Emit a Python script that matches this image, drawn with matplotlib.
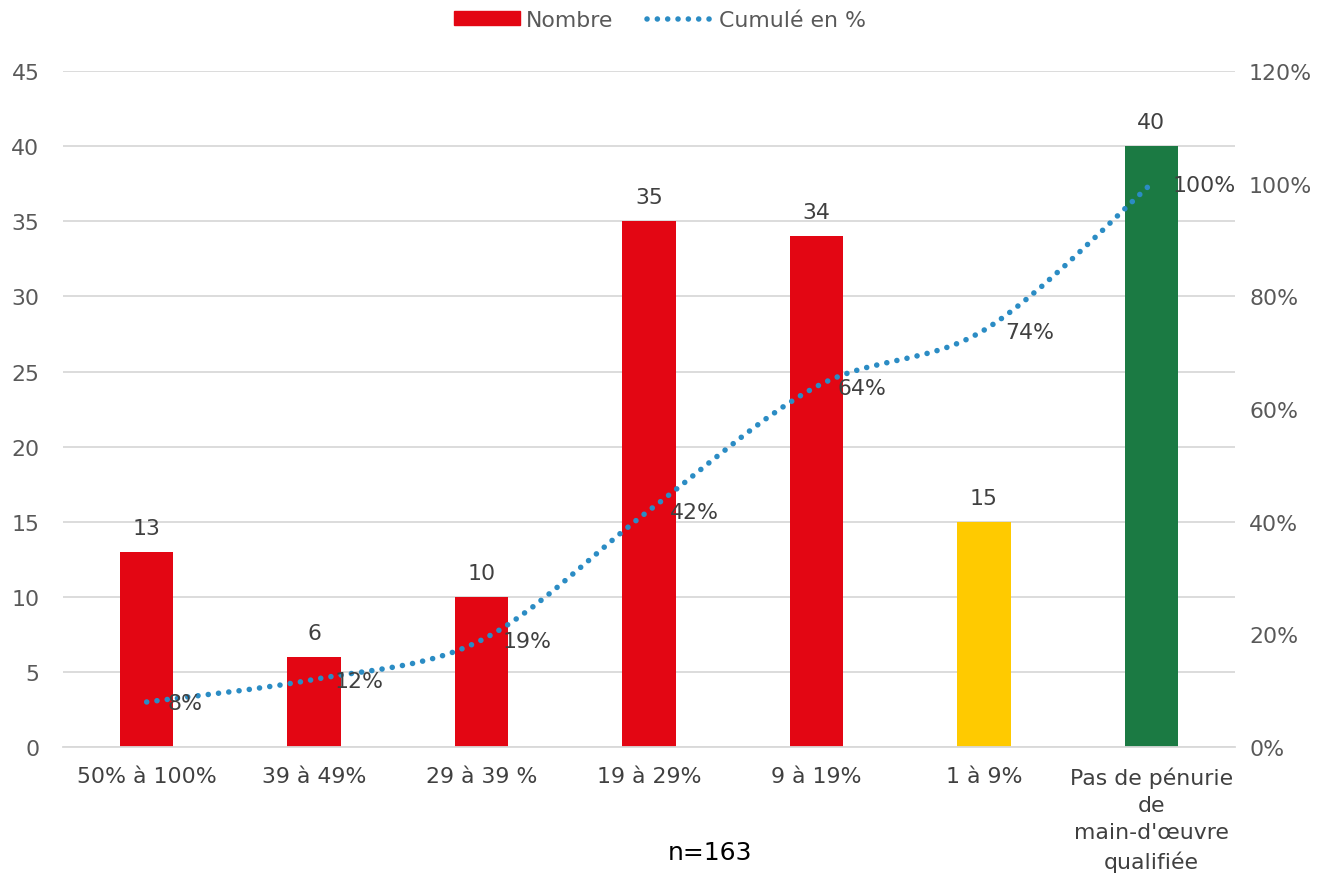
import numpy as np
import matplotlib.pyplot as plt
from matplotlib.path import Path
from matplotlib.patches import PathPatch, Patch
from matplotlib.lines import Line2D

plt.rcParams['font.family'] = ['DejaVu Sans']

# Data
categories = ['50% à 100%', '39 à 49%', '29 à 39 %', '19 à 29%', '9 à 19%', '1 à 9%',
              "Pas de pénurie\nde\nmain-d'œuvre\nqualifiée"]
counts = [13, 6, 10, 35, 34, 15, 40]
cum_pct = [8, 12, 19, 42, 64, 74, 100]
bar_colors = ['#E30613', '#E30613', '#E30613', '#E30613', '#E30613', '#FFCA00', '#1B7A43']

TEXT = '#404040'
TICK = '#595959'
GRID = '#D9D9D9'
BLUE = '#2B8CC4'
FS = 15.8

fig = plt.figure(figsize=(13.2, 8.79), dpi=100)
ax = fig.add_axes([0.0477, 0.149, 0.888, 0.769])
ax2 = ax.twinx()

x = np.arange(len(categories))
ax.bar(x, counts, width=0.32, color=bar_colors, zorder=2)
for xi, c in zip(x, counts):
    ax.annotate(str(c), (xi, c), xytext=(0, 10), textcoords='offset points',
                ha='center', va='bottom', fontsize=FS, color=TEXT)

ax.set_xlim(-0.5, len(categories) - 0.5)
ax.set_ylim(0, 45)
ax.set_yticks(range(0, 46, 5))
ax.set_xticks(x)
ax.set_xticklabels(categories, fontsize=FS, color=TEXT, linespacing=1.45)
ax.tick_params(axis='x', length=0, pad=14)
ax.tick_params(axis='y', length=0, labelsize=FS, labelcolor=TICK, pad=17)
ax.grid(axis='y', color=GRID, lw=1.3, zorder=0)
ax.set_axisbelow(True)
for s in ax.spines.values():
    s.set_visible(False)
ax.spines['bottom'].set_visible(True)
ax.spines['bottom'].set_color(GRID)
ax.spines['bottom'].set_linewidth(1.3)

# Smoothed cumulative line (Catmull-Rom style bezier through the points)
ax2.set_ylim(0, 120)
ax2.set_yticks(range(0, 121, 20))
ax2.set_yticklabels([f'{v}%' for v in range(0, 121, 20)])
ax2.tick_params(axis='y', length=0, labelsize=FS, labelcolor=TICK, pad=10)
for s in ax2.spines.values():
    s.set_visible(False)

pts = np.column_stack([x, cum_pct]).astype(float)
verts = [tuple(pts[0])]
codes = [Path.MOVETO]
n = len(pts)
for i in range(n - 1):
    p0 = pts[max(i - 1, 0)]
    p1 = pts[i]
    p2 = pts[i + 1]
    p3 = pts[min(i + 2, n - 1)]
    c1 = p1 + (p2 - p0) / 6.0
    c2 = p2 - (p3 - p1) / 6.0
    verts += [tuple(c1), tuple(c2), tuple(p2)]
    codes += [Path.CURVE4] * 3
patch = PathPatch(Path(verts, codes), fill=False, edgecolor=BLUE, lw=4.0,
                  linestyle=(0, (0.01, 1.85)), capstyle='round', zorder=3)
ax2.add_patch(patch)
for xi, v in zip(x, cum_pct):
    ax2.annotate(f'{v}%', (xi, v), xytext=(15, -1), textcoords='offset points',
                 ha='left', va='center', fontsize=FS, color=TEXT)

# Legend
handles = [Patch(color='#E30613'),
           Line2D([0], [0], color=BLUE, lw=4.0, linestyle=(0, (0.01, 1.85)),
                  dash_capstyle='round')]
fig.legend(handles, ['Nombre', 'Cumulé en %'], loc='upper center',
           bbox_to_anchor=(0.5, 1.01), ncol=2, frameon=False, fontsize=FS,
           labelcolor=TICK, handlelength=3.0, handleheight=0.6, columnspacing=1.5,
           handletextpad=0.3)

fig.text(0.538, 0.03, 'n=163', ha='center', va='center', fontsize=18, color='black')

fig.savefig('out.png', dpi=100)
